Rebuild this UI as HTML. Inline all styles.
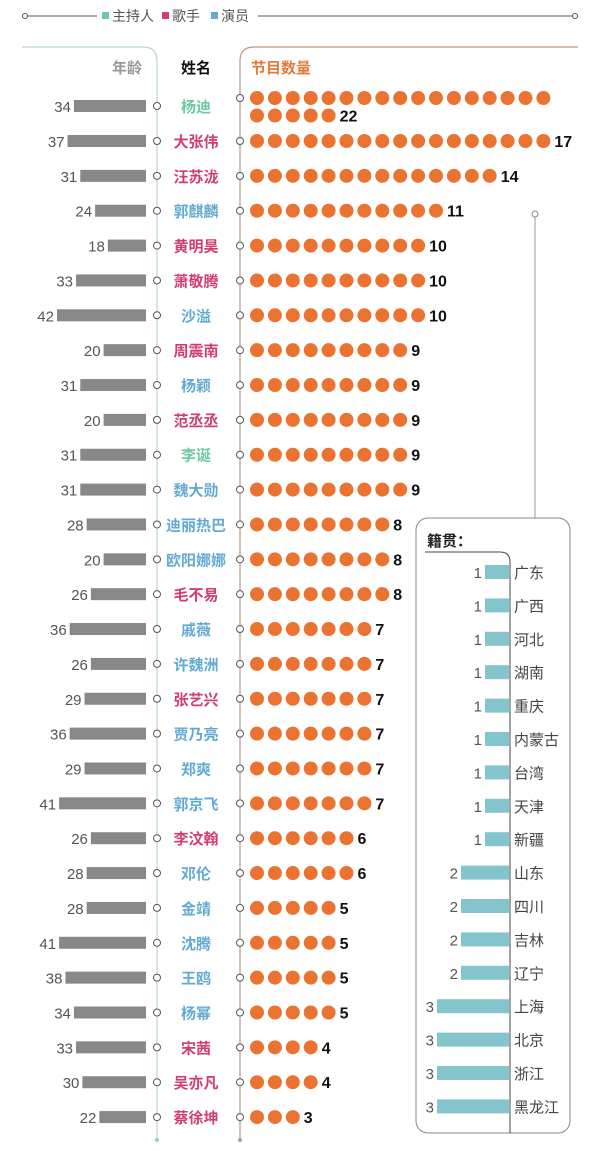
<!DOCTYPE html>
<html><head><meta charset="utf-8">
<style>
body{margin:0;background:#fff;width:600px;height:1146px;overflow:hidden;font-family:"Liberation Sans","Noto Sans CJK SC",sans-serif}
svg text{font-family:"Liberation Sans","Noto Sans CJK SC",sans-serif}
</style></head><body>
<svg id="c" width="600" height="1146"></svg>
<script>
const names=["杨迪","大张伟","汪苏泷","郭麒麟","黄明昊","萧敬腾","沙溢","周震南","杨颖","范丞丞","李诞","魏大勋","迪丽热巴","欧阳娜娜","毛不易","戚薇","许魏洲","张艺兴","贾乃亮","郑爽","郭京飞","李汶翰","邓伦","金靖","沈腾","王鸥","杨幂","宋茜","吴亦凡","蔡徐坤"];
const roles=["h","s","s","a","s","s","a","s","a","s","h","a","a","a","s","a","a","s","a","a","a","s","a","a","a","a","a","s","s","s"];
const ages=[34,37,31,24,18,33,42,20,31,20,31,31,28,20,26,36,26,29,36,29,41,26,28,28,41,38,34,33,30,22];
const shows=[22,17,14,11,10,10,10,9,9,9,9,9,8,8,8,7,7,7,7,7,7,6,6,5,5,5,5,4,4,3];
const provs=["广东","广西","河北","湖南","重庆","内蒙古","台湾","天津","新疆","山东","四川","吉林","辽宁","上海","北京","浙江","黑龙江"];
const provCounts=[1,1,1,1,1,1,1,1,1,2,2,2,2,3,3,3,3];
const roleColor={h:"#6cc9a2",s:"#d23c72",a:"#62aad2"};
const svg=document.getElementById('c');
const NS="http://www.w3.org/2000/svg";
function mk(tag,attrs,parent){const e=document.createElementNS(NS,tag);for(const k in attrs)e.setAttribute(k,attrs[k]);(parent||svg).appendChild(e);return e;}
function tx(x,y,s,attrs){const e=mk('text',Object.assign({x:x,y:y},attrs));e.textContent=s;return e;}
const rowY=i=>i===0?106:141+(i-1)*34.86;
const ageW=a=>a*2.12;
const dotX=k=>257+k*17.9;
const provY=j=>572+j*33.4;
const provW=c=>c*24;

let e;
e=mk('line',{x1:28,y1:16,x2:97,y2:16,stroke:'#555','stroke-width':1});

e=mk('line',{x1:258,y1:16,x2:572,y2:16,stroke:'#555','stroke-width':1});

mk('circle',{cx:25,cy:16,r:2.5,fill:'#fff',stroke:'#555'});
mk('circle',{cx:575,cy:16,r:2.5,fill:'#fff',stroke:'#555'});
[["主持人","#6cc9a2",102],["歌手","#d23c72",162],["演员","#62aad2",211]].forEach((l,i)=>{
 const g=mk('g',{});
 
 mk('rect',{x:l[2],y:12,width:7,height:7,fill:l[1]},g);
 const t=mk('text',{x:l[2]+10,y:21,'font-size':14,fill:'#555'},g);t.textContent=l[0];
});
e=mk('path',{d:'M22 47 H143 Q157 47 157 61 V1140',fill:'none',stroke:'#bcd3d6','stroke-width':1.2});

e=mk('path',{d:'M578 47 H254 Q240 47 240 61 V1140',fill:'none',stroke:'#b39b86','stroke-width':1.2});

mk('circle',{cx:157,cy:1140,r:2,fill:'#9cc'});mk('circle',{cx:240,cy:1140,r:2,fill:'#b39b86'});
e=tx(142,73,"年龄",{'font-size':15,fill:'#999','font-weight':'bold','text-anchor':'end'});

e=tx(196,73,"姓名",{'font-size':15,fill:'#111','font-weight':'bold','text-anchor':'middle'});

e=tx(251,73,"节目数量",{'font-size':15,fill:'#e07a3a','font-weight':'bold'});


names.forEach((n,i)=>{
 const y=rowY(i);
 const g=mk('g',{});
 
 const w=ageW(ages[i]);
 const b=mk('rect',{x:146-w,y:y-6,width:w,height:12,fill:'#888'},g);
 
 const at=mk('text',{x:146-w-3,y:y+6,'font-size':15,fill:'#555','text-anchor':'end'},g);at.textContent=ages[i];
 mk('circle',{cx:157,cy:y,r:3.5,fill:'#fff',stroke:'#555','stroke-width':1},g);
 const nt=mk('text',{x:196,y:y+6,'font-size':15,fill:roleColor[roles[i]],'font-weight':'bold','text-anchor':'middle'},g);nt.textContent=n;
 
 const cy0=i===0?y-8:y;
 mk('circle',{cx:240,cy:cy0,r:3.5,fill:'#fff',stroke:'#555','stroke-width':1},g);
 let lastX=0,lastY=cy0;
 for(let k=0;k<shows[i];k++){
  const row=k<17?0:1, col=k<17?k:k-17;
  const cx=dotX(col), cy=cy0+row*17.5;
  const d=mk('circle',{cx:cx,cy:cy,r:7,fill:'#ea7331'},g);
  
  lastX=cx;lastY=cy;
 }
 const st=mk('text',{x:lastX+11,y:lastY+6,'font-size':16,'font-weight':'bold',fill:'#111'},g);st.textContent=shows[i];
 
});

mk('line',{x1:535,y1:215,x2:535,y2:518,stroke:'#999','stroke-width':1});
mk('circle',{cx:535,cy:214,r:3,fill:'#fff',stroke:'#888'});
e=mk('rect',{x:416,y:518,width:154,height:615,rx:12,fill:'#fff',stroke:'#888','stroke-width':1});

e=tx(427,546,"籍贯：",{'font-size':15,'font-weight':'bold',fill:'#222'});

mk('path',{d:'M425 552 H500 Q510 552 510 562 V1133',fill:'none',stroke:'#444','stroke-width':1});
provs.forEach((p,j)=>{
 const y=provY(j),w=provW(provCounts[j]);
 const g=mk('g',{});
 
 const b=mk('rect',{x:509-w,y:y-7,width:w,height:14,fill:'#84c4cd'},g);
 
 const c=mk('text',{x:509-w-3,y:y+6,'font-size':15,fill:'#555','text-anchor':'end'},g);c.textContent=provCounts[j];
 const t=mk('text',{x:514,y:y+6,'font-size':15,fill:'#444'},g);t.textContent=p;
});
</script>
</body></html>
